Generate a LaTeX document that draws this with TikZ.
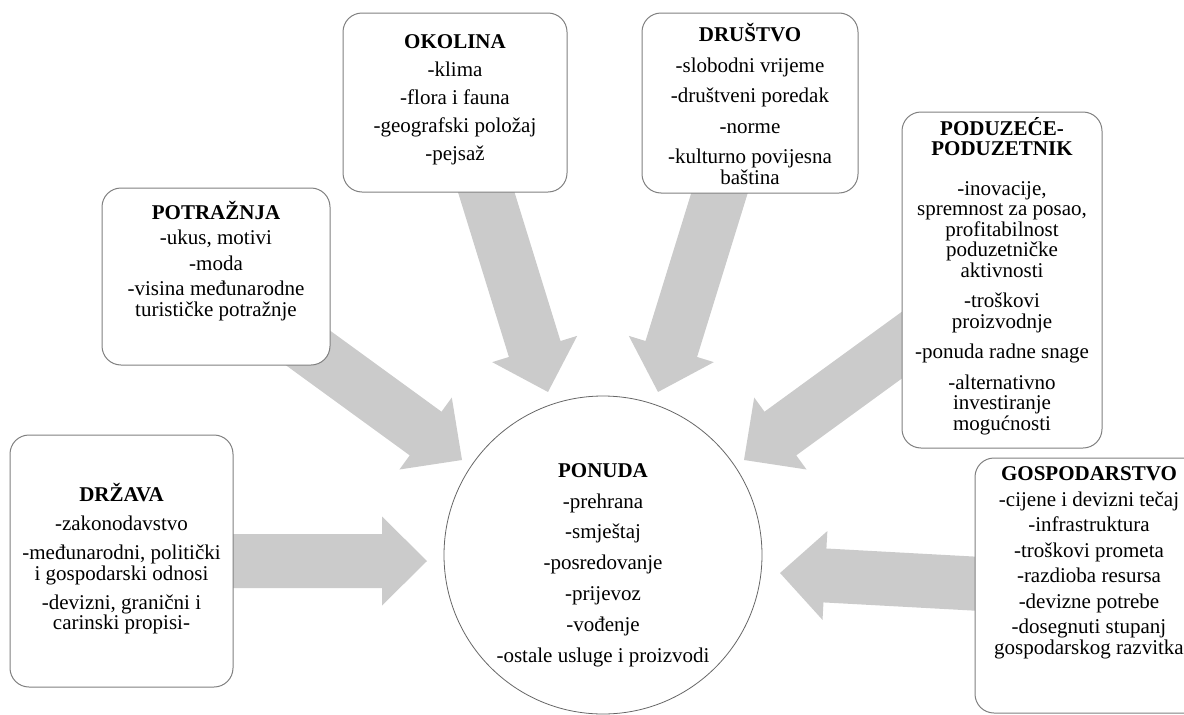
\documentclass[tikz,border=0pt]{standalone}
\usepackage{fontspec}
\setmainfont{Liberation Serif}
\usetikzlibrary{calc}
\definecolor{arrowgray}{HTML}{CBCBCB}
\definecolor{boxline}{HTML}{808080}
\newcommand\blockarrow[2]{%
  \fill[arrowgray] let \p1=(#1), \p2=(#2),
    \n1={atan2(\y2-\y1,\x2-\x1)},
    \n2={veclen(\x2-\x1,\y2-\y1)} in
    [shift={(\p1)}, rotate=\n1]
    (0pt,-27pt) -- (\n2-45pt,-27pt) -- (\n2-45pt,-44.5pt) -- (\n2,0pt)
    -- (\n2-45pt,44.5pt) -- (\n2-45pt,27pt) -- (0pt,27pt) -- cycle;}
\tikzset{
  box/.style={draw=boxline, line width=1pt, rounded corners=19pt, fill=white, inner sep=0pt},
  txt/.style={align=center, inner sep=0pt, font=\fontsize{21}{20.5}\selectfont},
}
\begin{document}
\begin{tikzpicture}[x=1pt,y=-1pt]
\useasboundingbox (0,0) rectangle (1184,715);
\clip (0,0) rectangle (1184,715);
% arrow end points
\coordinate (drzava-s) at (200,561);
\coordinate (drzava-e) at (427,561);
\coordinate (gosp-s) at (1000,585);
\coordinate (gosp-e) at (780,573);
\coordinate (potr-s) at (260,313);
\coordinate (potr-e) at (462,460);
\coordinate (okol-s) at (480,172);
\coordinate (okol-e) at (548,392);
\coordinate (drus-s) at (726,172);
\coordinate (drus-e) at (658,392);
\coordinate (podu-s) at (946,313);
\coordinate (podu-e) at (744,460);
\blockarrow{drzava-s}{drzava-e}
\blockarrow{gosp-s}{gosp-e}
\blockarrow{potr-s}{potr-e}
\blockarrow{okol-s}{okol-e}
\blockarrow{drus-s}{drus-e}
\blockarrow{podu-s}{podu-e}
% boxes
\node[box, minimum width=223pt, minimum height=252pt] (drzava) at (121.5,561) {};
\node[box, minimum width=228pt, minimum height=177pt] (potr) at (216,276.5) {};
\node[box, minimum width=224pt, minimum height=179pt] (okol) at (455,102.5) {};
\node[box, minimum width=216pt, minimum height=180pt] (drus) at (750,103) {};
\node[box, minimum width=200pt, minimum height=336pt] (podu) at (1002,280) {};
\node[box, minimum width=230pt, minimum height=255pt] (gosp) at (1090,585.5) {};
\node[draw=boxline!80!black, line width=0.8pt, circle, fill=white, minimum size=318pt, inner sep=0pt] (ponuda) at (603,555) {};
% texts
\node[txt] (drzava-t) at (121.5,559) {\textbf{DRŽAVA}\\[8.5pt]-zakonodavstvo\\[8.5pt]-međunarodni, politički\\i gospodarski odnosi\\[8.5pt]-devizni, granični i\\carinski propisi-};
\node[txt] (potr-t) at (216,261) {\textbf{POTRAŽNJA}\\[5pt]-ukus, motivi\\[5pt]-moda\\[5pt]-visina međunarodne\\turističke potražnje};
\node[txt] (okol-t) at (455,100) {\textbf{OKOLINA}\\[7.5pt]-klima\\[7.5pt]-flora i fauna\\[7.5pt]-geografski položaj\\[7.5pt]-pejsaž};
\node[txt] (drus-t) at (750,104) {\textbf{DRUŠTVO}\\[10pt]-slobodni vrijeme\\[10pt]-društveni poredak\\[10pt]-norme\\[10pt]-kulturno povijesna\\baština};
\node[txt] (podu-t) at (1002,276) {\textbf{PODUZEĆE-}\\\textbf{PODUZETNIK}\\[19pt]-inovacije,\\spremnost za posao,\\profitabilnost\\poduzetničke\\aktivnosti\\[10pt]-troškovi\\proizvodnje\\[10pt]-ponuda radne snage\\[10pt]-alternativno\\investiranje\\mogućnosti};
\node[txt] (gosp-t) at (1089,563) {\textbf{GOSPODARSTVO}\\[5pt]-cijene i devizni tečaj\\[5pt]-infrastruktura\\[5pt]-troškovi prometa\\[5pt]-razdioba resursa\\[5pt]-devizne potrebe\\[5pt]-dosegnuti stupanj\\gospodarskog razvitka};
\node[txt] (ponuda-t) at (603,565) {\textbf{PONUDA}\\[10.3pt]-prehrana\\[10.3pt]-smještaj\\[10.3pt]-posredovanje\\[10.3pt]-prijevoz\\[10.3pt]-vođenje\\[10.3pt]-ostale usluge i proizvodi};
\end{tikzpicture}
\end{document}
